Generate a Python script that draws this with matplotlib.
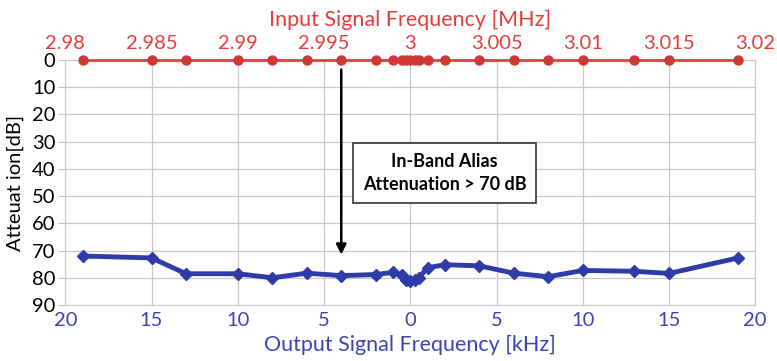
import matplotlib.pyplot as plt
from matplotlib.ticker import FuncFormatter

# input tones (MHz) and their attenuation at the input (dB)
input_freq_mhz = [2.981, 2.985, 2.987, 2.990, 2.992, 2.994, 2.996, 2.998, 2.999, 2.9995,
                  2.99975, 3.000, 3.00025, 3.0005, 3.001, 3.002, 3.004, 3.006, 3.008,
                  3.010, 3.013, 3.015, 3.019]
input_atten_db = [0] * len(input_freq_mhz)

# aliased output tones (kHz offset) and their attenuation (dB)
output_freq_khz = [-19, -15, -13, -10, -8, -6, -4, -2, -1, -0.5, -0.25, 0, 0.25, 0.5,
                   1, 2, 4, 6, 8, 10, 13, 15, 19]
output_atten_db = [72.0, 72.7, 78.5, 78.5, 80.0, 78.3, 79.2, 78.8, 78.0, 79.0, 80.8, 81.3,
                   80.8, 80.0, 76.3, 75.2, 75.6, 78.3, 79.6, 77.3, 77.6, 78.4, 72.7]

bottom_ticks = [-20, -15, -10, -5, 0, 5, 10, 15, 20]
top_ticks = [2.98, 2.985, 2.99, 2.995, 3.0, 3.005, 3.01, 3.015, 3.02]
y_ticks = [0, 10, 20, 30, 40, 50, 60, 70, 80, 90]

red = '#E43D3A'
red_dark = '#D03838'
blue_txt = '#3C44B4'
blue_line = '#2F3BA9'
grid_c = '#C8C8C8'

plt.rcParams['font.family'] = ['Lato', 'DejaVu Sans']

fig, ax = plt.subplots(figsize=(7.77, 3.61), dpi=100)
fig.subplots_adjust(left=0.084, right=0.972, top=0.834, bottom=0.155)

ax.plot(output_freq_khz, output_atten_db, color=blue_line, lw=3.5, marker='D',
        markersize=6.5, zorder=4, clip_on=False)
ax.set_xlim(-20, 20)
ax.set_ylim(90, 0)
ax.set_xticks(bottom_ticks)
ax.xaxis.set_major_formatter(FuncFormatter(lambda v, p: '%d' % abs(v)))
ax.set_yticks(y_ticks)
ax.grid(True, color=grid_c, lw=0.9)
ax.tick_params(axis='x', colors=blue_txt, labelsize=14.5, length=0, pad=5)
ax.tick_params(axis='y', labelsize=14.5, length=5, color=grid_c, pad=2)
for s in ax.spines.values():
    s.set_color(grid_c)
ax.spines['top'].set_visible(False)
ax.set_xlabel('Output Signal Frequency [kHz]', color=blue_txt, fontsize=15.5, labelpad=4)
ax.set_ylabel('Atteuat ion[dB]', fontsize=14.5, labelpad=6)

ax2 = ax.twiny()
ax2.plot(input_freq_mhz, input_atten_db, color=red, lw=2, marker='o', markersize=6.5,
         markerfacecolor=red_dark, markeredgecolor=red_dark, zorder=5, clip_on=False)
ax2.set_xlim(2.98, 3.02)
ax2.set_xticks(top_ticks)
ax2.xaxis.set_major_formatter(FuncFormatter(lambda v, p: '%g' % round(v, 3)))
ax2.tick_params(axis='x', colors=red, labelsize=14.5, length=0, pad=6)
for s in ax2.spines.values():
    s.set_visible(False)
ax2.set_xlabel('Input Signal Frequency [MHz]', color=red, fontsize=15.5, labelpad=6)

ax.annotate('', xy=(-4, 72.5), xytext=(-4, 2.5),
            arrowprops=dict(arrowstyle='-|>', color='black', lw=1.8, mutation_scale=15))
ax.text(2.0, 41.5, 'In-Band Alias\nAttenuation > 70 dB', ha='center', va='center',
        fontsize=13, fontweight='bold', linespacing=1.45,
        bbox=dict(boxstyle='square,pad=0.55', facecolor='white', edgecolor='#333333', lw=1.2))

fig.savefig('out.png', dpi=100)
